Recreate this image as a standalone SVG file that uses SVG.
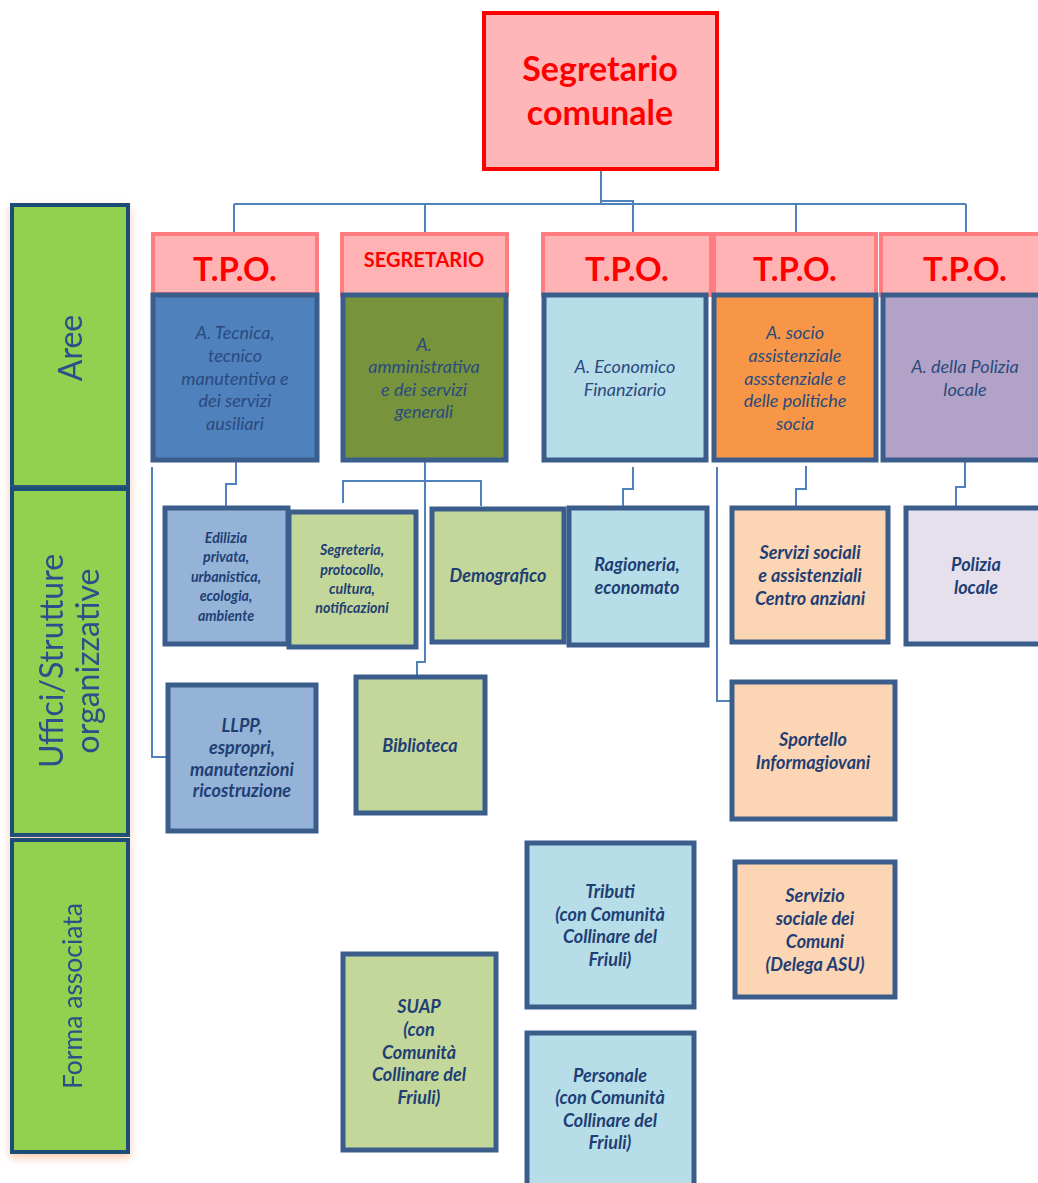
<svg xmlns="http://www.w3.org/2000/svg" width="1038" height="1183" viewBox="0 0 1038 1183">
<defs>
<style>
.lane{fill:#92D050;stroke:#1F4E79;stroke-width:4}
.lanet{font-family:Lato,"Open Sans",sans-serif;font-size:32px;fill:#2A4F8A;text-anchor:middle}
.hdr{fill:#FFB3B5;stroke:#FF7C80;stroke-width:4}
.hdrt{font-family:Lato,"Liberation Sans",sans-serif;font-weight:bold;fill:#FF0000;text-anchor:middle}
.box{stroke:#3A5D8C;stroke-width:5}
.at{font-family:Lato,"Liberation Sans",sans-serif;font-style:italic;font-size:18px;fill:#2A4A7E;text-anchor:middle}
.bt{font-family:Lato,"Liberation Sans",sans-serif;font-style:italic;font-weight:bold;font-size:18px;fill:#1F3F74;text-anchor:middle}
.sm{font-size:14.2px}
.con{fill:none;stroke:#4F81BD;stroke-width:2}
</style>
<filter id="glow" x="-20%" y="-5%" width="140%" height="110%">
<feDropShadow dx="0" dy="4" stdDeviation="4" flood-color="#F8A878" flood-opacity="0.6"/>
</filter>
</defs>
<rect width="1038" height="1183" fill="#FFFFFF"/>

<g id="connectors">
<path class="con" d="M601,170 V204 M234,204 H966 M234,204 V238 M425,204 V238 M601,201 H633 V238 M796,204 V238 M966,204 V238"/>
<path class="con" d="M236,461 V484 H226 V507"/>
<path class="con" d="M152,467 V757 H170"/>
<path class="con" d="M425,461 V662 H417 V678"/>
<path class="con" d="M343,503 V481 H481 V506"/>
<path class="con" d="M633,467 V489 H623 V507"/>
<path class="con" d="M717,467 V701 H733"/>
<path class="con" d="M806,466 V489 H796 V507"/>
<path class="con" d="M965,461 V487 H956 V507"/>
</g>

<g id="lane-aree" filter="url(#glow)">
<rect class="lane" x="12" y="205" width="116" height="282"/>
<text class="lanet" transform="translate(82,348) rotate(-90)">Aree</text>
</g>
<g id="lane-uffici" filter="url(#glow)">
<rect class="lane" x="12" y="489" width="116" height="346"/>
<text class="lanet" transform="translate(63,661) rotate(-90)">Uffici/Strutture</text>
<text class="lanet" transform="translate(99,661) rotate(-90)">organizzative</text>
</g>
<g id="lane-forma" filter="url(#glow)">
<rect class="lane" x="12" y="840" width="116" height="312"/>
<text class="lanet" transform="translate(82,996) rotate(-90)" style="font-size:26.5px">Forma associata</text>
</g>

<g id="segretario-comunale">
<rect x="484" y="13" width="233" height="156" fill="#FFB6B8" stroke="#FF0000" stroke-width="4"/>
<text class="hdrt" x="600" y="81" font-size="34">Segretario</text>
<text class="hdrt" x="600" y="125" font-size="34">comunale</text>
</g>

<g id="tpo-1">
<rect class="hdr" x="153" y="234" width="164" height="60"/>
<text class="hdrt" x="235" y="281" font-size="33">T.P.O.</text>
</g>
<g id="segretario-2">
<rect class="hdr" x="342" y="234" width="165" height="61"/>
<text class="hdrt" x="424" y="267" font-size="20">SEGRETARIO</text>
</g>
<g id="tpo-3">
<rect class="hdr" x="543" y="234" width="168" height="61"/>
<text class="hdrt" x="627" y="281" font-size="33">T.P.O.</text>
</g>
<g id="tpo-4">
<rect class="hdr" x="714" y="234" width="162" height="61"/>
<text class="hdrt" x="795" y="281" font-size="33">T.P.O.</text>
</g>
<g id="tpo-5">
<rect class="hdr" x="881" y="234" width="170" height="61"/>
<text class="hdrt" x="965" y="281" font-size="33">T.P.O.</text>
</g>

<g id="area-tecnica">
<rect class="box" x="153" y="295" width="164" height="165" fill="#4F81BD"/>
<text class="at" x="235" y="339">A. Tecnica,</text>
<text class="at" x="235" y="362">tecnico</text>
<text class="at" x="235" y="385">manutentiva e</text>
<text class="at" x="235" y="407">dei servizi</text>
<text class="at" x="235" y="430">ausiliari</text>
</g>
<g id="area-amministrativa">
<rect class="box" x="343" y="295" width="163" height="165" fill="#77933C"/>
<text class="at" x="424" y="351">A.</text>
<text class="at" x="424" y="373">amministrativa</text>
<text class="at" x="424" y="396">e dei servizi</text>
<text class="at" x="424" y="418">generali</text>
</g>
<g id="area-economico">
<rect class="box" x="544" y="295" width="162" height="165" fill="#B7DDE8"/>
<text class="at" x="625" y="373">A. Economico</text>
<text class="at" x="625" y="396">Finanziario</text>
</g>
<g id="area-socio">
<rect class="box" x="714" y="295" width="162" height="165" fill="#F79646"/>
<text class="at" x="795" y="339">A. socio</text>
<text class="at" x="795" y="362">assistenziale</text>
<text class="at" x="795" y="385">assstenziale e</text>
<text class="at" x="795" y="407">delle politiche</text>
<text class="at" x="795" y="430">socia</text>
</g>
<g id="area-polizia">
<rect class="box" x="883" y="295" width="170" height="165" fill="#B2A2C7"/>
<text class="at" x="965" y="373">A. della Polizia</text>
<text class="at" x="965" y="396">locale</text>
</g>

<g id="edilizia">
<rect class="box" x="165" y="508" width="123" height="136" fill="#95B3D7"/>
<text class="bt sm" x="226" y="543">Edilizia</text>
<text class="bt sm" x="226" y="562">privata,</text>
<text class="bt sm" x="226" y="582">urbanistica,</text>
<text class="bt sm" x="226" y="601">ecologia,</text>
<text class="bt sm" x="226" y="621">ambiente</text>
</g>
<g id="segreteria">
<rect class="box" x="289" y="512" width="127" height="135" fill="#C4D79B"/>
<text class="bt sm" x="352" y="555">Segreteria,</text>
<text class="bt sm" x="352" y="575">protocollo,</text>
<text class="bt sm" x="352" y="594">cultura,</text>
<text class="bt sm" x="352" y="613">notificazioni</text>
</g>
<g id="demografico">
<rect class="box" x="432" y="509" width="132" height="133" fill="#C4D79B"/>
<text class="bt" font-size="16" x="498" y="582">Demografico</text>
</g>
<g id="ragioneria">
<rect class="box" x="569" y="508" width="138" height="137" fill="#B7DDE8"/>
<text class="bt" x="637" y="571">Ragioneria,</text>
<text class="bt" x="637" y="594">economato</text>
</g>
<g id="servizi-sociali">
<rect class="box" x="732" y="508" width="156" height="134" fill="#FCD5B4"/>
<text class="bt" x="810" y="559">Servizi sociali</text>
<text class="bt" x="810" y="582">e assistenziali</text>
<text class="bt" x="810" y="605">Centro anziani</text>
</g>
<g id="polizia-locale">
<rect class="box" x="906" y="508" width="150" height="136" fill="#E5E0EC"/>
<text class="bt" x="976" y="571">Polizia</text>
<text class="bt" x="976" y="594">locale</text>
</g>
<g id="llpp">
<rect class="box" x="168" y="685" width="148" height="146" fill="#95B3D7"/>
<text class="bt" font-size="16.5" x="242" y="732">LLPP,</text>
<text class="bt" font-size="16.5" x="242" y="754">espropri,</text>
<text class="bt" font-size="16.5" x="242" y="776">manutenzioni</text>
<text class="bt" font-size="16.5" x="242" y="797">ricostruzione</text>
</g>
<g id="biblioteca">
<rect class="box" x="356" y="677" width="129" height="136" fill="#C4D79B"/>
<text class="bt" x="420" y="752">Biblioteca</text>
</g>
<g id="sportello">
<rect class="box" x="732" y="682" width="163" height="137" fill="#FCD5B4"/>
<text class="bt" x="813" y="746">Sportello</text>
<text class="bt" x="813" y="769">Informagiovani</text>
</g>

<g id="tributi">
<rect class="box" x="527" y="843" width="167" height="164" fill="#B7DDE8"/>
<text class="bt" x="610" y="898">Tributi</text>
<text class="bt" x="610" y="921">(con Comunità</text>
<text class="bt" x="610" y="943">Collinare del</text>
<text class="bt" x="610" y="966">Friuli)</text>
</g>
<g id="personale">
<rect class="box" x="527" y="1033" width="167" height="170" fill="#B7DDE8"/>
<text class="bt" x="610" y="1082">Personale</text>
<text class="bt" x="610" y="1104">(con Comunità</text>
<text class="bt" x="610" y="1127">Collinare del</text>
<text class="bt" x="610" y="1149">Friuli)</text>
</g>
<g id="servizio-sociale-comuni">
<rect class="box" x="735" y="862" width="160" height="135" fill="#FCD5B4"/>
<text class="bt" x="815" y="902">Servizio</text>
<text class="bt" x="815" y="925">sociale dei</text>
<text class="bt" x="815" y="948">Comuni</text>
<text class="bt" x="815" y="971">(Delega ASU)</text>
</g>
<g id="suap">
<rect class="box" x="343" y="954" width="153" height="196" fill="#C4D79B"/>
<text class="bt" x="419" y="1013">SUAP</text>
<text class="bt" x="419" y="1036">(con</text>
<text class="bt" x="419" y="1059">Comunità</text>
<text class="bt" x="419" y="1081">Collinare del</text>
<text class="bt" x="419" y="1104">Friuli)</text>
</g>
</svg>
